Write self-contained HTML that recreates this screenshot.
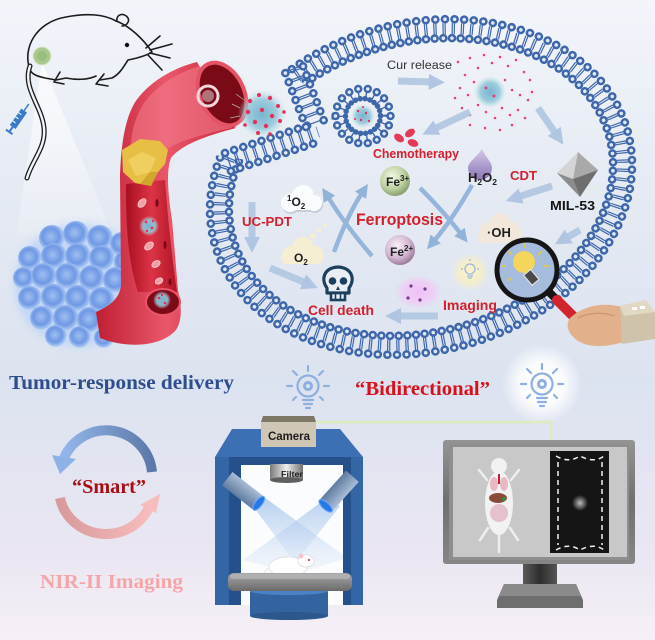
<!DOCTYPE html>
<html><head><meta charset="utf-8"><style>
html,body{margin:0;padding:0;width:655px;height:640px;overflow:hidden;background:#e6ebf4}
svg{display:block}
</style></head><body>
<svg width="655" height="640" viewBox="0 0 655 640" xmlns="http://www.w3.org/2000/svg">
<defs>
 <linearGradient id="bg" x1="0" y1="0" x2="0" y2="1">
  <stop offset="0" stop-color="#f2f5fa"/>
  <stop offset="0.3" stop-color="#e5eaf3"/>
  <stop offset="0.6" stop-color="#dce3f0"/>
  <stop offset="0.85" stop-color="#e9e6f2"/>
  <stop offset="1" stop-color="#f6eff6"/>
 </linearGradient>
 <radialGradient id="sph" cx="0.45" cy="0.45" r="0.6">
  <stop offset="0" stop-color="#9fbff2"/>
  <stop offset="0.55" stop-color="#6f98e4"/>
  <stop offset="0.85" stop-color="#a9c7f4"/>
  <stop offset="1" stop-color="#dceafc"/>
 </radialGradient>
 <linearGradient id="vess" x1="0" y1="0" x2="1" y2="0">
  <stop offset="0" stop-color="#c01f33"/>
  <stop offset="0.5" stop-color="#e9566a"/>
  <stop offset="1" stop-color="#c9283b"/>
 </linearGradient>
 <linearGradient id="lumen" x1="0" y1="0" x2="1" y2="0">
  <stop offset="0" stop-color="#a80f20"/>
  <stop offset="0.5" stop-color="#dc3446"/>
  <stop offset="1" stop-color="#b01426"/>
 </linearGradient>
 <radialGradient id="fe3" cx="0.4" cy="0.35" r="0.7">
  <stop offset="0" stop-color="#f4f8e6"/>
  <stop offset="0.6" stop-color="#bcd0a0"/>
  <stop offset="1" stop-color="#7e9868"/>
 </radialGradient>
 <radialGradient id="fe2" cx="0.4" cy="0.35" r="0.7">
  <stop offset="0" stop-color="#f8eef6"/>
  <stop offset="0.6" stop-color="#d2b6d0"/>
  <stop offset="1" stop-color="#927090"/>
 </radialGradient>
 <radialGradient id="glowW" cx="0.5" cy="0.5" r="0.5">
  <stop offset="0" stop-color="#ffffff" stop-opacity="1"/>
  <stop offset="0.55" stop-color="#ffffff" stop-opacity="0.85"/>
  <stop offset="1" stop-color="#ffffff" stop-opacity="0"/>
 </radialGradient>
 <radialGradient id="glowY" cx="0.5" cy="0.5" r="0.5">
  <stop offset="0" stop-color="#fbf4c8"/>
  <stop offset="0.6" stop-color="#f7efc4" stop-opacity="0.8"/>
  <stop offset="1" stop-color="#f7efc4" stop-opacity="0"/>
 </radialGradient>
 <radialGradient id="glowP" cx="0.5" cy="0.5" r="0.5">
  <stop offset="0" stop-color="#efc0f6"/>
  <stop offset="0.6" stop-color="#f0c8f6" stop-opacity="0.8"/>
  <stop offset="1" stop-color="#f0c8f6" stop-opacity="0"/>
 </radialGradient>
 <radialGradient id="npg" cx="0.5" cy="0.5" r="0.5">
  <stop offset="0" stop-color="#78b4cf"/>
  <stop offset="0.6" stop-color="#93c8da" stop-opacity="0.9"/>
  <stop offset="1" stop-color="#b8e0e4" stop-opacity="0"/>
 </radialGradient>
 <linearGradient id="drop" x1="0" y1="0" x2="0" y2="1">
  <stop offset="0" stop-color="#d4c8ea"/>
  <stop offset="1" stop-color="#8a76b4"/>
 </linearGradient>
 <linearGradient id="gray1" x1="0" y1="0" x2="1" y2="0">
  <stop offset="0" stop-color="#7a7a7a"/>
  <stop offset="0.5" stop-color="#eeeeee"/>
  <stop offset="1" stop-color="#707070"/>
 </linearGradient>
 <linearGradient id="lamp" x1="0" y1="0" x2="0" y2="1">
  <stop offset="0" stop-color="#a9bdd6"/>
  <stop offset="1" stop-color="#5f7ba0"/>
 </linearGradient>
 <linearGradient id="beam" x1="0" y1="0" x2="0" y2="1">
  <stop offset="0" stop-color="#9fc0ea" stop-opacity="0.75"/>
  <stop offset="1" stop-color="#cfe0f5" stop-opacity="0.2"/>
 </linearGradient>
 <linearGradient id="plat" x1="0" y1="0" x2="0" y2="1">
  <stop offset="0" stop-color="#a8a8a8"/>
  <stop offset="1" stop-color="#6a6a6a"/>
 </linearGradient>
 <linearGradient id="bezel" x1="0" y1="0" x2="0" y2="1">
  <stop offset="0" stop-color="#949494"/>
  <stop offset="0.5" stop-color="#707070"/>
  <stop offset="1" stop-color="#868686"/>
 </linearGradient>
 <linearGradient id="neck" x1="0" y1="0" x2="1" y2="0">
  <stop offset="0" stop-color="#5a5a5a"/>
  <stop offset="0.5" stop-color="#2e2e2e"/>
  <stop offset="1" stop-color="#555"/>
 </linearGradient>
 <linearGradient id="cycB" x1="1" y1="0" x2="0" y2="0">
  <stop offset="0" stop-color="#5c78a8"/>
  <stop offset="1" stop-color="#93b6ea"/>
 </linearGradient>
 <linearGradient id="cycR" x1="0" y1="0" x2="1" y2="0">
  <stop offset="0" stop-color="#d89a9c"/>
  <stop offset="1" stop-color="#f7bcbc"/>
 </linearGradient>
 <linearGradient id="cone" x1="0" y1="0" x2="0" y2="1">
  <stop offset="0" stop-color="#ffffff" stop-opacity="0.7"/>
  <stop offset="1" stop-color="#ffffff" stop-opacity="0.15"/>
 </linearGradient>
 <radialGradient id="spot" cx="0.5" cy="0.5" r="0.5">
  <stop offset="0" stop-color="#bdbdbd"/>
  <stop offset="1" stop-color="#151515"/>
 </radialGradient>
 <marker id="ah" viewBox="0 0 10 10" refX="2" refY="5" markerWidth="2.3" markerHeight="2.3" orient="auto">
  <path d="M0,0 L10,5 L0,10 Z" fill="#aac2e0"/>
 </marker>
 <marker id="ah2" viewBox="0 0 10 10" refX="2" refY="5" markerWidth="3" markerHeight="3" orient="auto">
  <path d="M0,0 L10,5 L0,10 Z" fill="#89aed6"/>
 </marker>
 <mask id="gapm" maskUnits="userSpaceOnUse" x="0" y="-100" width="655" height="800">
  <rect x="0" y="-100" width="655" height="800" fill="#fff"/>
  <polygon points="421,187 21,125 0,-60 157,-45" fill="#000"/>
 </mask>
 <filter id="blur4" x="-50%" y="-50%" width="200%" height="200%"><feGaussianBlur stdDeviation="4"/></filter>
</defs>

<rect width="655" height="640" fill="url(#bg)"/>

<!-- ===== top-left: mouse, beam, tumor, vessel ===== -->
<polygon points="42,62 16,236 110,228" fill="url(#cone)"/>

<!-- mouse line drawing -->
<g fill="none" stroke="#1c1c1c" stroke-width="1.6" stroke-linecap="round" stroke-linejoin="round">
 <path d="M30,70 C22,48 36,22 66,17 C86,13 104,14 116,21 C130,26 144,40 152,52 C146,56 138,58 128,60 C124,66 120,74 112,78 L100,80 M96,76 C88,80 76,80 66,78 L56,80 L45,78 C36,76 32,74 30,70"/>
 <path d="M117,21 C116,14 124,12 128,18 C130,22 126,26 122,26"/>
 <path d="M60,72 L54,82 L64,84 M104,74 L96,84 L108,86"/>
 <path d="M150,50 L172,44 M150,53 L170,58 M148,55 L162,70 M146,48 L160,36"/>
</g>
<circle cx="127" cy="45" r="2.2" fill="#111"/>
<path d="M30,66 C22,88 42,106 44,128 C46,148 32,160 27,178" fill="none" stroke="#1c1c1c" stroke-width="5" stroke-linecap="round"/>
<path d="M30,66 C22,88 42,106 44,128 C46,148 32,160 27,178" fill="none" stroke="#f0f3f8" stroke-width="2.4" stroke-linecap="round"/>
<circle cx="42" cy="56" r="9" fill="#a9c98f" stroke="#d8e8c8" stroke-width="1"/>
<circle cx="42" cy="56" r="5" fill="#8fb878" opacity="0.6"/>
<!-- syringe -->
<g transform="translate(19,118) rotate(-55)">
 <rect x="-11" y="-3.5" width="20" height="7" fill="#3a7ac8"/>
 <line x1="9" y1="0" x2="17" y2="0" stroke="#3a7ac8" stroke-width="1.5"/>
 <line x1="-11" y1="0" x2="-17" y2="0" stroke="#3a7ac8" stroke-width="2"/>
 <line x1="-17" y1="-4" x2="-17" y2="4" stroke="#3a7ac8" stroke-width="2"/>
 <line x1="-6" y1="-3.5" x2="-6" y2="0" stroke="#fff" stroke-width="1"/>
 <line x1="-1" y1="-3.5" x2="-1" y2="0" stroke="#fff" stroke-width="1"/>
 <line x1="4" y1="-3.5" x2="4" y2="0" stroke="#fff" stroke-width="1"/>
</g>

<!-- tumor cluster -->
<ellipse cx="80" cy="285" rx="66" ry="62" fill="#a6c8fa" opacity="0.5" filter="url(#blur4)"/>
<g fill="url(#sph)">
 <circle cx="52" cy="238" r="13"/><circle cx="76" cy="234" r="13"/><circle cx="100" cy="238" r="13"/><circle cx="122" cy="244" r="12"/>
 <circle cx="30" cy="258" r="12"/><circle cx="54" cy="256" r="13"/><circle cx="78" cy="256" r="13"/><circle cx="102" cy="258" r="13"/><circle cx="126" cy="262" r="12"/>
 <circle cx="24" cy="278" r="11"/><circle cx="44" cy="276" r="13"/><circle cx="68" cy="276" r="13"/><circle cx="92" cy="278" r="13"/><circle cx="116" cy="280" r="13"/><circle cx="136" cy="284" r="10"/>
 <circle cx="30" cy="298" r="12"/><circle cx="54" cy="297" r="13"/><circle cx="78" cy="298" r="13"/><circle cx="102" cy="300" r="13"/>
 <circle cx="42" cy="318" r="12"/><circle cx="66" cy="318" r="13"/><circle cx="90" cy="320" r="13"/>
 <circle cx="56" cy="336" r="11"/><circle cx="80" cy="337" r="11"/><circle cx="104" cy="338" r="10"/>
</g>

<!-- vessel -->
<path d="M197,62 C172,68 146,84 134,104 C124,122 121,148 120,175 L121,285 C120,298 110,306 96,312 L100,338 C125,348 160,348 176,330 C184,318 180,300 178,290 L172,220 C168,195 166,170 171,158 C181,145 205,136 236,128 Z" fill="url(#vess)"/>
<path d="M200,66 C178,72 152,88 141,108 C133,124 131,136 131,146 L166,150 C176,142 200,135 232,128 Z" fill="#f2808e" opacity="0.55"/>
<path d="M126,184 C126,220 127,258 138,292 L177,292 C172,258 168,220 165,180 Z" fill="url(#lumen)"/>
<g fill="#f0a0a8" stroke="#fbd0d4" stroke-width="0.8">
 <ellipse cx="142" cy="203" rx="5" ry="3.2" transform="rotate(-50 142 203)"/>
 <ellipse cx="149" cy="246" rx="5" ry="3.2" transform="rotate(-40 149 246)"/>
 <ellipse cx="156" cy="264" rx="4.5" ry="3" transform="rotate(-30 156 264)"/>
 <ellipse cx="159" cy="281" rx="4" ry="2.8" transform="rotate(-30 159 281)"/>
</g>
<g fill="#7a0816"><ellipse cx="157" cy="203" rx="1.5" ry="4"/><ellipse cx="165" cy="245" rx="1.5" ry="4"/><ellipse cx="170" cy="282" rx="1.5" ry="3.5"/></g>
<circle cx="149" cy="226" r="10" fill="url(#npg)"/>
<g fill="#e8305a"><circle cx="146" cy="222" r="1.4"/><circle cx="152" cy="228" r="1.4"/><circle cx="147" cy="231" r="1.2"/><circle cx="153" cy="221" r="1.2"/></g>
<ellipse cx="163" cy="302" rx="17" ry="13" fill="#7c0a18" stroke="#e9566a" stroke-width="2"/>
<circle cx="162" cy="300" r="9" fill="url(#npg)"/>
<g fill="#e8305a"><circle cx="159" cy="298" r="1.3"/><circle cx="165" cy="303" r="1.3"/><circle cx="162" cy="295" r="1.1"/></g>
<path d="M122,150 L140,139 L160,141 L168,150 L165,164 L158,172 L151,186 L135,183 L123,172 Z" fill="#e7bf45"/>
<path d="M128,160 L142,152 L156,158 L150,172 L136,176 Z" fill="#f3d368" opacity="0.8"/>
<path d="M150,172 L158,172 L151,186 L140,184 Z" fill="#c99a24" opacity="0.7"/>
<ellipse cx="222" cy="94" rx="22" ry="33" transform="rotate(-25 222 94)" fill="#7a0a16" stroke="#e45466" stroke-width="4"/>
<circle cx="208" cy="96" r="10" fill="none" stroke="#f3d7dc" stroke-width="3"/>
<circle cx="208" cy="96" r="6" fill="#c8a0a8" opacity="0.7"/>

<!-- ===== cell membrane ===== -->
<g mask="url(#gapm)">
 <g transform="rotate(-15 421 187)" fill="none">
  <ellipse cx="421" cy="187" rx="204.5" ry="154.5" pathLength="124" stroke="#3e66ab" stroke-width="11" stroke-dasharray="0.13 0.1 0.13 0.64" stroke-dashoffset="0.18"/>
  <ellipse cx="421" cy="187" rx="214" ry="164" pathLength="124" stroke="#3e66ab" stroke-width="8.6" stroke-linecap="round" stroke-dasharray="0.001 0.999"/>
  <ellipse cx="421" cy="187" rx="214" ry="164" pathLength="124" stroke="#e2e8f3" stroke-width="3.6" stroke-linecap="round" stroke-dasharray="0.001 0.999"/>
  <ellipse cx="421" cy="187" rx="195" ry="145" pathLength="124" stroke="#3e66ab" stroke-width="8.6" stroke-linecap="round" stroke-dasharray="0.001 0.999"/>
  <ellipse cx="421" cy="187" rx="195" ry="145" pathLength="124" stroke="#e2e8f3" stroke-width="3.6" stroke-linecap="round" stroke-dasharray="0.001 0.999"/>
 </g>
</g>
<!-- invagination arms -->
<g transform="translate(228,162) rotate(-18.4)" fill="none">
 <line x1="0" y1="0" x2="95" y2="0" stroke="#3e66ab" stroke-width="11" stroke-dasharray="1.2 0.9 1.2 6.3" stroke-dashoffset="1.65"/>
 <line x1="0" y1="-9.5" x2="95" y2="-9.5" stroke="#3e66ab" stroke-width="8.6" stroke-linecap="round" stroke-dasharray="0.01 9.6"/>
 <line x1="0" y1="-9.5" x2="95" y2="-9.5" stroke="#e2e8f3" stroke-width="3.6" stroke-linecap="round" stroke-dasharray="0.01 9.6"/>
 <line x1="0" y1="9.5" x2="95" y2="9.5" stroke="#3e66ab" stroke-width="8.6" stroke-linecap="round" stroke-dasharray="0.01 9.6"/>
 <line x1="0" y1="9.5" x2="95" y2="9.5" stroke="#e2e8f3" stroke-width="3.6" stroke-linecap="round" stroke-dasharray="0.01 9.6"/>
</g>
<g transform="translate(318,132) rotate(-110.9)" fill="none">
 <line x1="9" y1="0" x2="73" y2="0" stroke="#3e66ab" stroke-width="11" stroke-dasharray="1.2 0.9 1.2 6.3" stroke-dashoffset="1.65"/>
 <line x1="9" y1="-9.5" x2="73" y2="-9.5" stroke="#3e66ab" stroke-width="8.6" stroke-linecap="round" stroke-dasharray="0.01 9.6"/>
 <line x1="9" y1="-9.5" x2="73" y2="-9.5" stroke="#e2e8f3" stroke-width="3.6" stroke-linecap="round" stroke-dasharray="0.01 9.6"/>
 <line x1="9" y1="9.5" x2="73" y2="9.5" stroke="#3e66ab" stroke-width="8.6" stroke-linecap="round" stroke-dasharray="0.01 9.6"/>
 <line x1="9" y1="9.5" x2="73" y2="9.5" stroke="#e2e8f3" stroke-width="3.6" stroke-linecap="round" stroke-dasharray="0.01 9.6"/>
</g>

<!-- entering nanoparticle -->
<circle cx="262" cy="114" r="24" fill="url(#npg)"/>
<g stroke="#bfe3d8" stroke-width="0.7" opacity="0.8">
 <line x1="240" y1="108" x2="232" y2="104"/><line x1="240" y1="116" x2="230" y2="118"/><line x1="242" y1="122" x2="234" y2="128"/><line x1="244" y1="100" x2="236" y2="94"/>
</g>
<g fill="#e6305a">
 <circle cx="250" cy="101" r="2.2"/><circle cx="259" cy="95" r="2"/><circle cx="270" cy="98" r="2.2"/><circle cx="278" cy="106" r="2"/>
 <circle cx="248" cy="112" r="2.2"/><circle cx="262" cy="110" r="2.2"/><circle cx="272" cy="116" r="2.2"/><circle cx="255" cy="122" r="2.2"/>
 <circle cx="266" cy="126" r="2.2"/><circle cx="280" cy="121" r="2"/><circle cx="245" cy="125" r="1.8"/><circle cx="258" cy="133" r="2"/>
 <circle cx="270" cy="134" r="1.8"/><circle cx="284" cy="112" r="1.8"/>
</g>

<!-- endosome vesicle -->
<g fill="none">
 <circle cx="363" cy="116" r="21.5" pathLength="18" stroke="#3e66ab" stroke-width="7" stroke-dasharray="0.18 0.82" stroke-dashoffset="0.09"/>
 <circle cx="363" cy="116" r="27.5" pathLength="18" stroke="#3e66ab" stroke-width="8.4" stroke-linecap="round" stroke-dasharray="0.001 0.999"/>
 <circle cx="363" cy="116" r="27.5" pathLength="18" stroke="#e2e8f3" stroke-width="3.4" stroke-linecap="round" stroke-dasharray="0.001 0.999"/>
 <circle cx="363" cy="116" r="17.5" pathLength="22" stroke="#3e66ab" stroke-width="5.5" stroke-linecap="round" stroke-dasharray="0.001 0.999"/>
</g>
<circle cx="363" cy="116" r="12" fill="url(#npg)"/>
<g fill="#e6305a"><circle cx="358" cy="111" r="1.2"/><circle cx="366" cy="113" r="1.2"/><circle cx="361" cy="120" r="1.2"/><circle cx="369" cy="121" r="1.2"/><circle cx="355" cy="119" r="1"/><circle cx="363" cy="107" r="1"/></g>

<!-- released cloud -->
<circle cx="490" cy="92" r="16" fill="url(#npg)"/>
<g fill="#e8407a">
 <circle cx="458" cy="62" r="1.3"/><circle cx="465" cy="75" r="1.3"/><circle cx="470" cy="58" r="1.3"/><circle cx="478" cy="68" r="1.3"/><circle cx="484" cy="55" r="1.3"/>
 <circle cx="492" cy="63" r="1.3"/><circle cx="500" cy="57" r="1.3"/><circle cx="508" cy="66" r="1.3"/><circle cx="516" cy="60" r="1.3"/><circle cx="524" cy="72" r="1.3"/>
 <circle cx="530" cy="80" r="1.3"/><circle cx="460" cy="88" r="1.3"/><circle cx="468" cy="95" r="1.3"/><circle cx="474" cy="82" r="1.3"/><circle cx="505" cy="80" r="1.3"/>
 <circle cx="512" cy="90" r="1.3"/><circle cx="520" cy="95" r="1.3"/><circle cx="528" cy="100" r="1.3"/><circle cx="462" cy="108" r="1.3"/><circle cx="470" cy="115" r="1.3"/>
 <circle cx="478" cy="105" r="1.3"/><circle cx="486" cy="112" r="1.3"/><circle cx="495" cy="118" r="1.3"/><circle cx="502" cy="108" r="1.3"/><circle cx="510" cy="115" r="1.3"/>
 <circle cx="518" cy="110" r="1.3"/><circle cx="525" cy="118" r="1.3"/><circle cx="470" cy="125" r="1.3"/><circle cx="485" cy="128" r="1.3"/><circle cx="500" cy="130" r="1.3"/>
 <circle cx="512" cy="125" r="1.3"/><circle cx="455" cy="98" r="1.3"/><circle cx="532" cy="92" r="1.3"/><circle cx="486" cy="88" r="1.5"/><circle cx="494" cy="96" r="1.5"/>
</g>

<!-- block arrows -->
<g stroke="#b0c6e1" stroke-width="7" fill="none" opacity="0.9" marker-end="url(#ah)">
 <line x1="398" y1="81" x2="432" y2="82"/>
 <line x1="470" y1="112" x2="434" y2="129"/>
 <line x1="538" y1="108" x2="556" y2="134"/>
 <line x1="552" y1="186" x2="518" y2="197"/>
 <line x1="580" y1="230" x2="566" y2="238"/>
 <line x1="438" y1="316" x2="398" y2="316"/>
 <line x1="252" y1="202" x2="252" y2="240"/>
 <line x1="270" y1="268" x2="306" y2="283"/>
</g>
<!-- ferroptosis ribbons -->
<g stroke="#8db1d8" stroke-width="4.5" fill="none" opacity="0.9" marker-end="url(#ah2)">
 <path d="M372,256 Q346,226 328,197"/>
 <path d="M334,252 Q348,214 362,193"/>
 <path d="M420,188 Q444,212 461,234"/>
 <path d="M472,185 Q452,220 434,241"/>
</g>

<!-- texts & icons in cell -->
<text x="387" y="69" font-family="Liberation Sans, sans-serif" font-size="11.5" fill="#333" textLength="65" lengthAdjust="spacingAndGlyphs">Cur release</text>
<g fill="#e43b58">
 <ellipse cx="399" cy="138" rx="5.5" ry="3.6" transform="rotate(35 399 138)"/>
 <ellipse cx="410" cy="133" rx="5.5" ry="3.6" transform="rotate(-35 410 133)"/>
 <ellipse cx="413" cy="143" rx="5.5" ry="3.6" transform="rotate(20 413 143)"/>
</g>
<text x="373" y="158" font-family="Liberation Sans, sans-serif" font-weight="bold" font-size="13" fill="#d3202c" textLength="86" lengthAdjust="spacingAndGlyphs">Chemotherapy</text>

<circle cx="395" cy="181" r="15" fill="url(#fe3)"/>
<text x="386" y="186" font-family="Liberation Sans, sans-serif" font-weight="bold" font-size="12" fill="#222">Fe<tspan font-size="8" dy="-5">3+</tspan></text>
<circle cx="400" cy="250" r="15" fill="url(#fe2)"/>
<text x="390" y="256" font-family="Liberation Sans, sans-serif" font-weight="bold" font-size="12" fill="#222">Fe<tspan font-size="8" dy="-5">2+</tspan></text>

<text x="356" y="225" font-family="Liberation Sans, sans-serif" font-weight="bold" font-size="17" fill="#d3202c" textLength="87" lengthAdjust="spacingAndGlyphs">Ferroptosis</text>

<path d="M482,149 C486,158 492,162 492,168 A12,12 0 1 1 468,168 C468,162 476,158 482,149 Z" fill="url(#drop)"/>
<text x="468" y="182" font-family="Liberation Sans, sans-serif" font-weight="bold" font-size="13" fill="#1e1e1e">H<tspan font-size="8.5" dy="3">2</tspan><tspan dy="-3">O</tspan><tspan font-size="8.5" dy="3">2</tspan></text>
<text x="510" y="180" font-family="Liberation Sans, sans-serif" font-weight="bold" font-size="13" fill="#d3202c" textLength="27" lengthAdjust="spacingAndGlyphs">CDT</text>

<!-- MIL-53 -->
<polygon points="578,152 557,173 573,179" fill="#d4d4d4"/>
<polygon points="578,152 598,170 573,179" fill="#a9a9a9"/>
<polygon points="557,173 573,179 580,197" fill="#8c8c8c"/>
<polygon points="573,179 598,170 580,197" fill="#6e6e6e"/>
<text x="550" y="210" font-family="Liberation Sans, sans-serif" font-weight="bold" font-size="13" fill="#151515" textLength="45" lengthAdjust="spacingAndGlyphs">MIL-53</text>

<!-- clouds -->
<g fill="#c9cfd9"><circle cx="291" cy="205" r="9"/><circle cx="304" cy="198" r="11"/><circle cx="315" cy="205" r="8"/><rect x="283" y="203" width="38" height="9" rx="4"/></g>
<g fill="#fbfcfe"><circle cx="290" cy="203" r="9"/><circle cx="303" cy="196" r="11"/><circle cx="314" cy="203" r="8"/><rect x="282" y="201" width="37" height="9" rx="4"/></g>
<text x="287" y="206" font-family="Liberation Sans, sans-serif" font-weight="bold" font-size="12" fill="#1e1e1e"><tspan font-size="8" dy="-5">1</tspan><tspan dy="5">O</tspan><tspan font-size="8" dy="3">2</tspan></text>

<text x="242" y="226" font-family="Liberation Sans, sans-serif" font-weight="bold" font-size="13" fill="#d3202c" textLength="50" lengthAdjust="spacingAndGlyphs">UC-PDT</text>

<g fill="#f5eed3"><circle cx="291" cy="255" r="9"/><circle cx="303" cy="248" r="11"/><circle cx="315" cy="255" r="9"/><rect x="281" y="252" width="42" height="12" rx="5"/>
 <circle cx="313" cy="236" r="3"/><circle cx="319" cy="230" r="2.4"/><circle cx="325" cy="225" r="1.8"/></g>
<text x="294" y="262" font-family="Liberation Sans, sans-serif" font-weight="bold" font-size="12" fill="#1e1e1e">O<tspan font-size="8" dy="3">2</tspan></text>

<g fill="#f1e7da"><circle cx="488" cy="232" r="9"/><circle cx="500" cy="224" r="11"/><circle cx="512" cy="231" r="9"/><rect x="478" y="229" width="44" height="14" rx="6"/></g>
<text x="487" y="237" font-family="Liberation Sans, sans-serif" font-weight="bold" font-size="13" fill="#1e1e1e">·OH</text>

<!-- skull -->
<path d="M327,288 C321,280 323,268 338,267 C353,268 355,280 349,288 L349,293 L327,293 Z" fill="#e9eef5" stroke="#1d3f5e" stroke-width="3.2" stroke-linejoin="round"/>
<circle cx="332.5" cy="281" r="3.8" fill="#1d3f5e"/><circle cx="343.5" cy="281" r="3.8" fill="#1d3f5e"/>
<path d="M338,286 L336,290 L340,290 Z" fill="#1d3f5e"/>
<rect x="331" y="293" width="14" height="7" fill="#e9eef5" stroke="#1d3f5e" stroke-width="2.6"/>
<line x1="335.5" y1="293" x2="335.5" y2="300" stroke="#1d3f5e" stroke-width="1.6"/><line x1="340.5" y1="293" x2="340.5" y2="300" stroke="#1d3f5e" stroke-width="1.6"/>
<text x="308" y="315" font-family="Liberation Sans, sans-serif" font-weight="bold" font-size="14" fill="#d3202c" textLength="66" lengthAdjust="spacingAndGlyphs">Cell death</text>

<!-- purple blob -->
<ellipse cx="418" cy="292" rx="24" ry="17" fill="url(#glowP)"/>
<g fill="#7a3a8a"><circle cx="411" cy="286" r="1.6"/><circle cx="425" cy="289" r="1.6"/><circle cx="408" cy="298" r="1.6"/><circle cx="420" cy="300" r="1.6"/></g>

<!-- imaging glow -->
<circle cx="470" cy="272" r="19" fill="url(#glowY)"/>
<g fill="none" stroke="#9fb8de" stroke-width="1.3">
 <circle cx="470" cy="269" r="5"/><line x1="467" y1="276" x2="473" y2="276"/><line x1="468" y1="278" x2="472" y2="278"/>
 <line x1="470" y1="259" x2="470" y2="261"/><line x1="461" y1="269" x2="463" y2="269"/><line x1="477" y1="269" x2="479" y2="269"/>
</g>
<text x="443" y="310" font-family="Liberation Sans, sans-serif" font-weight="bold" font-size="14" fill="#d3202c" textLength="54" lengthAdjust="spacingAndGlyphs">Imaging</text>

<!-- magnifier -->
<circle cx="527" cy="270" r="30" fill="#a5bcdc"/>
<g stroke="#e8c64a" stroke-width="1.6">
 <line x1="525" y1="243" x2="525" y2="248"/><line x1="508" y1="251" x2="512" y2="255"/><line x1="542" y1="251" x2="538" y2="255"/>
 <line x1="501" y1="266" x2="506" y2="266"/><line x1="549" y1="266" x2="544" y2="266"/><line x1="507" y1="281" x2="511" y2="278"/>
</g>
<circle cx="524" cy="262" r="11" fill="#f5d65c"/>
<g transform="translate(531,277) rotate(-40)"><rect x="-4.5" y="-6" width="9" height="13" fill="#4a4a4a" stroke="#e8e8e8" stroke-width="1"/></g>
<circle cx="527" cy="270" r="30" fill="none" stroke="#151515" stroke-width="5"/>
<line x1="548" y1="291" x2="557" y2="300" stroke="#151515" stroke-width="8"/>
<line x1="557" y1="300" x2="588" y2="331" stroke="#d3232f" stroke-width="10" stroke-linecap="round"/>
<path d="M570,318 C584,305 604,302 622,307 L624,342 C606,347 590,348 578,341 C568,334 565,325 570,318 Z" fill="#e2b08a"/>
<path d="M578,318 C590,312 604,312 614,316" fill="none" stroke="#c98e66" stroke-width="1"/>
<path d="M620,306 L646,300 L655,312 L655,339 L622,344 Z" fill="#cfc4ab"/>
<path d="M620,306 L646,300 L655,312 L624,316 Z" fill="#e2d9c4"/>
<rect x="632" y="307" width="5" height="3" fill="#fff"/><rect x="640" y="306" width="5" height="3" fill="#fff"/>

<!-- ===== bottom half ===== -->
<text x="9" y="389" font-family="Liberation Serif, serif" font-weight="bold" font-size="20" fill="#2e4d8c" textLength="225" lengthAdjust="spacingAndGlyphs">Tumor-response delivery</text>
<text x="355" y="395" font-family="Liberation Serif, serif" font-weight="bold" font-size="20" fill="#d8101c" textLength="135" lengthAdjust="spacingAndGlyphs">“Bidirectional”</text>

<!-- bulbs -->
<circle cx="542" cy="384" r="40" fill="url(#glowW)"/>
<g fill="none" stroke="#8fb0df" stroke-width="2.2" stroke-linecap="round">
 <circle cx="308" cy="386" r="10.5"/>
 <line x1="303" y1="400" x2="313" y2="400"/><line x1="304" y1="404" x2="312" y2="404"/><line x1="306" y1="408" x2="310" y2="408"/>
 <line x1="308" y1="366" x2="308" y2="371"/><line x1="287" y1="386" x2="292" y2="386"/><line x1="324" y1="386" x2="329" y2="386"/>
 <line x1="293" y1="371" x2="297" y2="375"/><line x1="323" y1="371" x2="319" y2="375"/><line x1="293" y1="400" x2="296" y2="397"/><line x1="323" y1="400" x2="320" y2="397"/>
 <circle cx="308" cy="386" r="3.5" stroke-width="3" stroke-dasharray="2 1.2"/>
 <circle cx="542" cy="384" r="10.5"/>
 <line x1="537" y1="398" x2="547" y2="398"/><line x1="538" y1="402" x2="546" y2="402"/><line x1="540" y1="406" x2="544" y2="406"/>
 <line x1="542" y1="364" x2="542" y2="369"/><line x1="521" y1="384" x2="526" y2="384"/><line x1="558" y1="384" x2="563" y2="384"/>
 <line x1="527" y1="369" x2="531" y2="373"/><line x1="557" y1="369" x2="553" y2="373"/><line x1="527" y1="398" x2="530" y2="395"/><line x1="557" y1="398" x2="554" y2="395"/>
 <circle cx="542" cy="384" r="3.5" stroke-width="3" stroke-dasharray="2 1.2"/>
</g>

<!-- cycle -->
<path d="M152,472 A46,46 0 0 0 64,458" fill="none" stroke="url(#cycB)" stroke-width="10"/>
<polygon points="52,455 76,459 60,474" fill="#8fb2e6"/>
<path d="M60,498 A47,45 0 0 0 150,505" fill="none" stroke="url(#cycR)" stroke-width="10"/>
<polygon points="160,494 156,513 140,505" fill="#f7bcbc"/>
<text x="72" y="493" font-family="Liberation Serif, serif" font-weight="bold" font-size="20" fill="#a80c14" textLength="74" lengthAdjust="spacingAndGlyphs">“Smart”</text>
<text x="40" y="588" font-family="Liberation Serif, serif" font-weight="bold" font-size="20" fill="#f2a6a8" textLength="143" lengthAdjust="spacingAndGlyphs">NIR-II Imaging</text>

<!-- connector line -->
<polyline points="316,422 551,422 551,440" fill="none" stroke="#dcecbc" stroke-width="2.5"/>

<!-- imaging hood -->
<polygon points="232,429 340,429 363,457 215,457" fill="#3c70b2"/>
<rect x="241" y="464" width="102" height="141" fill="#fbfcfe"/>
<polygon points="252,505 264,497 347,558 302,572" fill="url(#beam)"/>
<polygon points="328,497 340,506 288,572 243,560" fill="url(#beam)"/>
<rect x="215" y="457" width="148" height="8" fill="#25508a"/>
<rect x="215" y="457" width="14" height="148" fill="#3466a6"/>
<rect x="229" y="465" width="12" height="140" fill="#24508c"/>
<rect x="343" y="465" width="8" height="140" fill="#24508c"/>
<rect x="351" y="457" width="12" height="148" fill="#3466a6"/>
<!-- camera -->
<polygon points="263,416 314,416 316,422 261,422" fill="#7d7768"/>
<rect x="261" y="422" width="55" height="25" fill="#cfc6b5"/>
<text x="268" y="440" font-family="Liberation Sans, sans-serif" font-weight="bold" font-size="12" fill="#1e1e1e" textLength="42" lengthAdjust="spacingAndGlyphs">Camera</text>
<!-- filter -->
<rect x="270" y="464" width="33" height="16" fill="url(#gray1)"/>
<ellipse cx="286.5" cy="480" rx="16.5" ry="3" fill="#5e5e5e"/>
<text x="281" y="477" font-family="Liberation Sans, sans-serif" font-weight="bold" font-size="8" fill="#1e1e1e" textLength="22" lengthAdjust="spacingAndGlyphs">Filter</text>
<!-- lamps -->
<g transform="translate(243,491) rotate(38)">
 <rect x="-20" y="-8.5" width="40" height="17" fill="url(#lamp)"/>
 <ellipse cx="20" cy="0" rx="3.5" ry="8.5" fill="#2a78e8" stroke="#6aa8ff" stroke-width="1"/>
</g>
<g transform="translate(339,491) rotate(132)">
 <rect x="-20" y="-8.5" width="40" height="17" fill="url(#lamp)"/>
 <ellipse cx="20" cy="0" rx="3.5" ry="8.5" fill="#2a78e8" stroke="#6aa8ff" stroke-width="1"/>
</g>
<!-- mouse on platform -->
<ellipse cx="288" cy="567" rx="19" ry="10" fill="#ffffff" stroke="#dcdcdc" stroke-width="0.8"/>
<ellipse cx="306" cy="561" rx="8" ry="6" fill="#ffffff" stroke="#dcdcdc" stroke-width="0.8"/>
<circle cx="301" cy="556" r="2.5" fill="#f0c8cc"/>
<circle cx="309" cy="560" r="1" fill="#c02030"/>
<path d="M270,568 C264,570 262,575 266,578" fill="none" stroke="#e8e8e8" stroke-width="1.2"/>
<!-- platform & base -->
<rect x="250" y="590" width="78" height="26" fill="#33649f"/>
<ellipse cx="289" cy="616" rx="39" ry="4" fill="#2b578c"/>
<ellipse cx="289" cy="591" rx="39" ry="4" fill="#4a82c6"/>
<rect x="228" y="573" width="124" height="18" rx="6" fill="url(#plat)"/>
<rect x="230" y="574" width="120" height="5" rx="3" fill="#b4b4b4" opacity="0.8"/>

<!-- monitor -->
<rect x="523" y="562" width="34" height="26" fill="url(#neck)"/>
<path d="M504,584 L576,584 L583,600 L583,608 L497,608 L497,600 Z" fill="#6e6e6e"/>
<path d="M504,584 L576,584 L581,596 L499,596 Z" fill="#8a8a8a"/>
<rect x="443" y="440" width="192" height="124" rx="3" fill="url(#bezel)"/>
<rect x="449" y="444" width="180" height="116" fill="#8e8e8e"/>
<rect x="453" y="447" width="174" height="110" fill="#c8c8c8"/>
<!-- anatomy mouse -->
<g>
 <ellipse cx="499" cy="503" rx="14" ry="32" fill="#f2f2f2"/>
 <circle cx="499" cy="466" r="8" fill="#f2f2f2"/>
 <g stroke="#eeeeee" stroke-width="2.5" fill="none" stroke-linecap="round">
  <path d="M487,480 L479,470"/><path d="M511,480 L519,470"/><path d="M488,528 L480,540"/><path d="M510,528 L518,540"/><path d="M499,534 L499,552"/>
 </g>
 <ellipse cx="494" cy="484" rx="4" ry="7" fill="#e8b8c4"/><ellipse cx="504" cy="484" rx="4" ry="7" fill="#e8b8c4"/>
 <rect x="498" y="474" width="2" height="10" fill="#c02030"/>
 <ellipse cx="498" cy="498" rx="9" ry="5" fill="#8a4a3a"/>
 <circle cx="504" cy="499" r="2" fill="#3a8a3a"/>
 <ellipse cx="499" cy="513" rx="9" ry="9" fill="#e6c0cc"/>
</g>
<rect x="550" y="451" width="59" height="102" fill="#151515"/>
<circle cx="580" cy="503" r="8" fill="url(#spot)"/>
<path d="M556,456 C566,462 574,460 580,456 C588,460 596,462 604,456 M558,462 L558,545 M602,462 L602,545 M556,550 C566,544 574,546 580,550 C588,546 596,544 604,550" fill="none" stroke="#f0f0f0" stroke-width="1.5" stroke-dasharray="5 4"/>
</svg>
</body></html>
